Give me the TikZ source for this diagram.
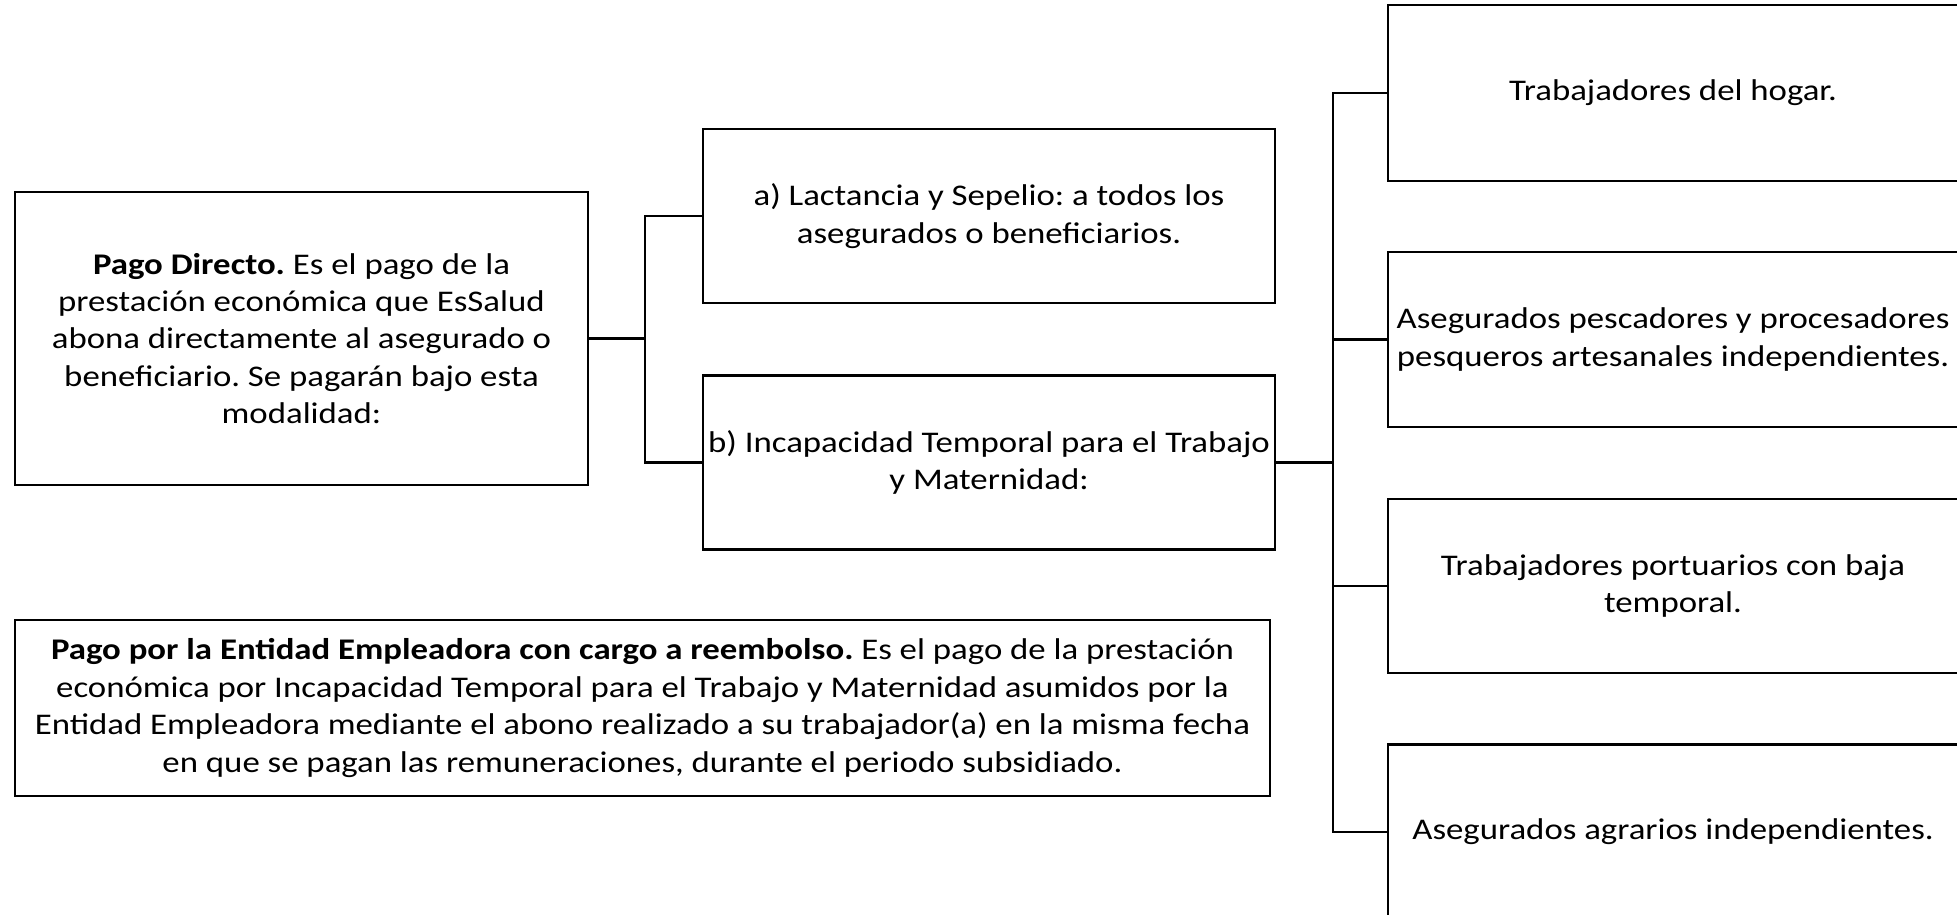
\documentclass[tikz,border=0pt]{standalone}
\usepackage{fontspec}
\setmainfont{Carlito}[FakeStretch=1.16]
\frenchspacing
\begin{document}
\begin{tikzpicture}[x=1pt,y=-1pt,
  box/.style={draw=black,line width=2.2pt,rectangle,align=center,inner sep=0pt,
    font=\fontsize{30}{37.4}\selectfont},
  conn/.style={draw=black,line width=2.2pt}]
\useasboundingbox (0,0) rectangle (1957,914);
\node[box,minimum width=573pt,minimum height=293pt] (pd) at (301.5,338.5)
  {\textbf{Pago Directo.} Es el pago de la\\prestación económica que EsSalud\\abona directamente al asegurado o\\beneficiario. Se pagarán bajo esta\\modalidad:};
\node[box,minimum width=572pt,minimum height=174pt] (a) at (989,216)
  {a) Lactancia y Sepelio: a todos los\\asegurados o beneficiarios.};
\node[box,minimum width=572pt,minimum height=174pt] (b) at (989,462.5)
  {b) Incapacidad Temporal para el Trabajo\\y Maternidad:};
\node[box,minimum width=1255pt,minimum height=176pt] (c) at (642.5,708)
  {\textbf{Pago por la Entidad Empleadora con cargo a reembolso.} Es el pago de la prestación\\económica por Incapacidad Temporal para el Trabajo y Maternidad asumidos por la\\Entidad Empleadora mediante el abono realizado a su trabajador(a) en la misma fecha\\en que se pagan las remuneraciones, durante el periodo subsidiado.};
\node[box,minimum width=570pt,minimum height=176pt] (r1) at (1673,93) {Trabajadores del hogar.};
\node[box,minimum width=570pt,minimum height=175pt] (r2) at (1673,339.5) {Asegurados pescadores y procesadores\\pesqueros artesanales independientes.};
\node[box,minimum width=570pt,minimum height=174pt] (r3) at (1673,586) {Trabajadores portuarios con baja\\temporal.};
\node[box,minimum width=570pt,minimum height=175pt] (r4) at (1673,832) {Asegurados agrarios independientes.};
\coordinate (j1) at (645,338.5);
\coordinate (j2) at (1333,462.5);
\draw[conn] (pd.east) -- (j1);
\draw[conn] (a.west) -| (j1) |- (b.west);
\draw[conn] (b.east) -- (j2);
\draw[conn] (r1.west) -| (j2) |- (r4.west);
\draw[conn] (r2.west) -- (r2.west -| j2);
\draw[conn] (r3.west) -- (r3.west -| j2);
\end{tikzpicture}
\end{document}
